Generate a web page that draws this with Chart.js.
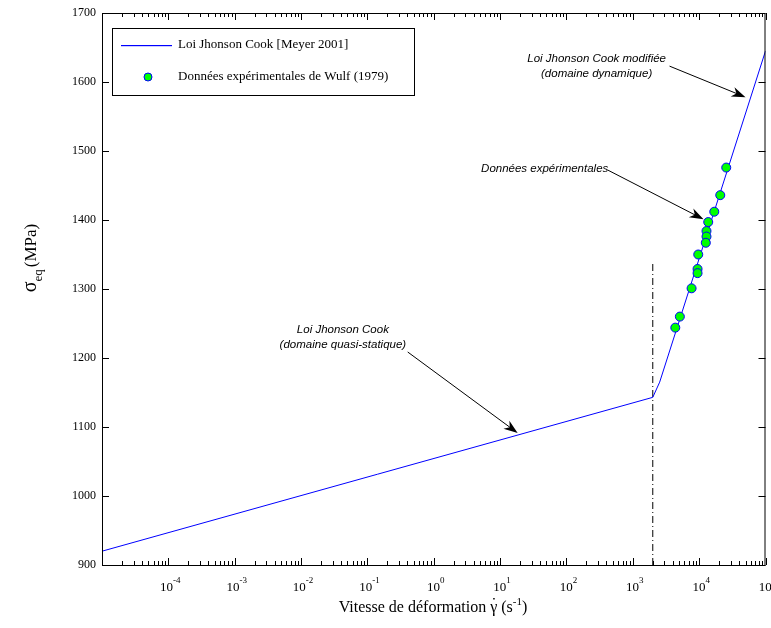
<!DOCTYPE html>
<html>
<head>
<meta charset="utf-8">
<script src="https://cdn.jsdelivr.net/npm/chart.js@4"></script>
<style>
  html, body { margin: 0; padding: 0; background: #fff; }
  #wrap { width: 771px; height: 628px; }
</style>
</head>
<body>
<div id="wrap"><canvas id="chart" width="771" height="628"></canvas></div>
<script>
// ── Data ────────────────────────────────────────────────────
// Johnson-Cook law (quasi-static then dynamic branch)
const lawRate   = [1e-5, 2000, 2540, 1e5];
const lawStress = [920, 1143, 1165, 1645];

// Wulf (1979) experimental points
const expRate   = [25600, 20800, 16900, 13700, 12900, 12900, 12600,
                   9690, 9460, 9460, 7690, 5120, 4370];
const expStress = [1476, 1436, 1412, 1397, 1384, 1376, 1367,
                   1350, 1329, 1323, 1301, 1260, 1244];

// Vertical dash-dot marker at the transition rate
const splitRate   = [2000, 2000];
const splitStress = [900, 1340];

// Axis ranges and labelled decades
const xRange     = [1e-5, 1e5];
const yRange     = [900, 1700];
const xTickExps  = [-4, -3, -2, -1, 0, 1, 2, 3, 4, 5];

// Annotations: text anchor and arrow in data coordinates
const notes = [
  { lines: ['Loi Jhonson Cook modifiée', '(domaine dynamique)'],
    at: [285, 1633], from: [3580, 1623], to: [50000, 1578] },
  { lines: ['Données expérimentales'],
    at: [47, 1474], from: [417, 1472.5], to: [11640, 1401] },
  { lines: ['Loi Jhonson Cook', '(domaine quasi-statique)'],
    at: [0.0427, 1240.6], from: [0.405, 1208.7], to: [18.4, 1091.3] }
];

const SERIF = '"Liberation Serif", "Times New Roman", serif';

// ── Helpers ─────────────────────────────────────────────────
function arrow(ctx, x1, y1, x2, y2) {
  const a = Math.atan2(y2 - y1, x2 - x1);
  const len = 14, wid = 5;
  ctx.beginPath();
  ctx.moveTo(x1, y1);
  ctx.lineTo(x2 - Math.cos(a) * 8, y2 - Math.sin(a) * 8);
  ctx.stroke();
  ctx.save();
  ctx.translate(x2, y2);
  ctx.rotate(a);
  ctx.beginPath();
  ctx.moveTo(0, 0);
  ctx.lineTo(-len, -wid);
  ctx.lineTo(-len * 0.7, 0);
  ctx.lineTo(-len, wid);
  ctx.closePath();
  ctx.fill();
  ctx.restore();
}

// ── Frame, inward ticks, tick labels, legend, titles, notes ─
const decorPlugin = {
  id: 'decor',
  afterDraw(chart) {
    const { ctx, chartArea: ca, scales: { x, y } } = chart;
    ctx.save();

    // box
    ctx.strokeStyle = '#000';
    ctx.lineWidth = 1;
    ctx.strokeRect(ca.left + 0.5, ca.top + 0.5, ca.right - ca.left - 1, ca.bottom - ca.top);

    // x ticks (log, major + minor), bottom and top
    ctx.beginPath();
    for (let e = -5; e <= 5; e++) {
      for (let k = 1; k <= 9; k++) {
        const v = k * Math.pow(10, e);
        if (v < xRange[0] || v > xRange[1]) continue;
        const px = Math.round(x.getPixelForValue(v)) + 0.5;
        const L = k === 1 ? 7 : 4;
        ctx.moveTo(px, ca.bottom); ctx.lineTo(px, ca.bottom - L);
        ctx.moveTo(px, ca.top);    ctx.lineTo(px, ca.top + L);
      }
    }
    // y ticks, left and right
    for (let v = yRange[0]; v <= yRange[1]; v += 100) {
      const py = Math.round(y.getPixelForValue(v)) + 0.5;
      ctx.moveTo(ca.left, py);  ctx.lineTo(ca.left + 7, py);
      ctx.moveTo(ca.right, py); ctx.lineTo(ca.right - 7, py);
    }
    ctx.stroke();

    // x tick labels: "10" with a raised exponent
    ctx.fillStyle = '#000';
    ctx.textBaseline = 'alphabetic';
    ctx.textAlign = 'left';
    xTickExps.forEach(e => {
      const px = x.getPixelForValue(Math.pow(10, e));
      ctx.font = '13px ' + SERIF;
      const wb = ctx.measureText('10').width;
      ctx.font = '9px ' + SERIF;
      const we = ctx.measureText(String(e)).width;
      const sx = px - (wb + we) / 2 + 2;
      ctx.font = '13px ' + SERIF;
      ctx.fillText('10', sx, ca.bottom + 26);
      ctx.font = '9px ' + SERIF;
      ctx.fillText(String(e), sx + wb, ca.bottom + 18);
    });

    // legend
    const lx = 112, ly = 28, lw = 302, lh = 67;
    ctx.fillStyle = '#fff';
    ctx.fillRect(lx, ly, lw, lh);
    ctx.strokeStyle = '#000';
    ctx.strokeRect(lx + 0.5, ly + 0.5, lw, lh);
    const ds = chart.data.datasets;
    ctx.fillStyle = ds[0].borderColor;
    ctx.fillRect(121, 45, 51, 1.2);
    ctx.beginPath();
    ctx.arc(148, 77, 4, 0, Math.PI * 2);
    ctx.fillStyle = ds[1].backgroundColor;
    ctx.fill();
    ctx.strokeStyle = ds[1].borderColor;
    ctx.stroke();
    ctx.fillStyle = '#000';
    ctx.font = '13px ' + SERIF;
    ctx.textBaseline = 'middle';
    ctx.textAlign = 'left';
    ctx.fillText(ds[0].label, 178, 45);
    ctx.fillText(ds[1].label, 178, 77);

    // x title
    ctx.textBaseline = 'alphabetic';
    const t1 = 'Vitesse de déformation ', t2 = 'γ', t3 = ' (s', t4 = '-1', t5 = ')';
    ctx.font = '16px ' + SERIF;
    const w1 = ctx.measureText(t1).width, w2 = ctx.measureText(t2).width,
          w3 = ctx.measureText(t3).width, w5 = ctx.measureText(t5).width;
    ctx.font = '11px ' + SERIF;
    const w4 = ctx.measureText(t4).width;
    let cx = 433 - (w1 + w2 + w3 + w4 + w5) / 2;
    const by = 612;
    ctx.font = '16px ' + SERIF;
    ctx.fillText(t1, cx, by); cx += w1;
    ctx.fillText(t2, cx, by);
    ctx.fillRect(cx + w2 / 2 - 0.5, by - 14, 1.5, 1.5);
    cx += w2;
    ctx.fillText(t3, cx, by); cx += w3;
    ctx.font = '11px ' + SERIF;
    ctx.fillText(t4, cx, by - 7); cx += w4;
    ctx.font = '16px ' + SERIF;
    ctx.fillText(t5, cx, by);

    // y title, rotated
    ctx.save();
    ctx.translate(36, 258);
    ctx.rotate(-Math.PI / 2);
    ctx.font = '20px ' + SERIF;
    const s1 = 'σ', s3 = '(MPa)';
    const ws1 = ctx.measureText(s1).width;
    ctx.font = '13px ' + SERIF;
    const ws2 = ctx.measureText('eq').width;
    ctx.font = '17px ' + SERIF;
    const ws3 = ctx.measureText(s3).width;
    let tx = -(ws1 + ws2 + 2 + ws3) / 2;
    ctx.font = '20px ' + SERIF;
    ctx.fillText(s1, tx, 0); tx += ws1;
    ctx.font = '13px ' + SERIF;
    ctx.fillText('eq', tx, 6); tx += ws2 + 2;
    ctx.font = '17px ' + SERIF;
    ctx.fillText(s3, tx, 0);
    ctx.restore();

    // annotations
    ctx.font = 'italic 11.5px "Liberation Sans", sans-serif';
    ctx.textAlign = 'center';
    ctx.textBaseline = 'middle';
    ctx.lineWidth = 1;
    ctx.strokeStyle = '#000';
    ctx.fillStyle = '#000';
    notes.forEach(n => {
      const ax = x.getPixelForValue(n.at[0]);
      const ay = y.getPixelForValue(n.at[1]);
      n.lines.forEach((t, i) => ctx.fillText(t, ax, ay + i * 15));
      arrow(ctx, x.getPixelForValue(n.from[0]), y.getPixelForValue(n.from[1]),
                 x.getPixelForValue(n.to[0]),   y.getPixelForValue(n.to[1]));
    });

    ctx.restore();
  }
};

// ── Chart ───────────────────────────────────────────────────
new Chart(document.getElementById('chart'), {
  type: 'scatter',
  data: {
    datasets: [
      {
        label: 'Loi Jhonson Cook [Meyer 2001]',
        data: lawRate.map((r, i) => ({ x: r, y: lawStress[i] })),
        showLine: true,
        borderColor: '#0000ff',
        borderWidth: 1,
        pointRadius: 0,
        order: 2
      },
      {
        label: 'Données expérimentales de Wulf (1979)',
        data: expRate.map((r, i) => ({ x: r, y: expStress[i] })),
        showLine: false,
        backgroundColor: '#00ff00',
        borderColor: '#0000ff',
        borderWidth: 1,
        pointRadius: 4.5,
        order: 1
      },
      {
        label: 'split',
        data: splitRate.map((r, i) => ({ x: r, y: splitStress[i] })),
        showLine: true,
        borderColor: '#000',
        borderWidth: 1,
        borderDash: [7, 3, 1, 3],
        pointRadius: 0,
        order: 3
      }
    ]
  },
  options: {
    responsive: false,
    animation: false,
    layout: { padding: { top: 13, right: 5, left: 0, bottom: 0 } },
    plugins: {
      legend: { display: false },
      tooltip: { enabled: false }
    },
    scales: {
      x: {
        type: 'logarithmic',
        min: xRange[0],
        max: xRange[1],
        grid: { display: false, drawTicks: false },
        border: { display: false },
        afterBuildTicks: (s) => { s.ticks = xTickExps.map(e => ({ value: Math.pow(10, e) })); },
        afterFit: (s) => { s.height = 63; s.paddingLeft = 0; s.paddingRight = 0; },
        ticks: { display: false }
      },
      y: {
        min: yRange[0],
        max: yRange[1],
        grid: { display: false, drawTicks: false },
        border: { display: false },
        afterFit: (s) => { s.width = 102; s.paddingTop = 0; s.paddingBottom = 0; },
        ticks: {
          stepSize: 100,
          padding: 6,
          color: '#000',
          font: { family: SERIF, size: 12 },
          callback: (v) => String(v)
        }
      }
    }
  },
  plugins: [decorPlugin]
});
</script>
</body>
</html>
